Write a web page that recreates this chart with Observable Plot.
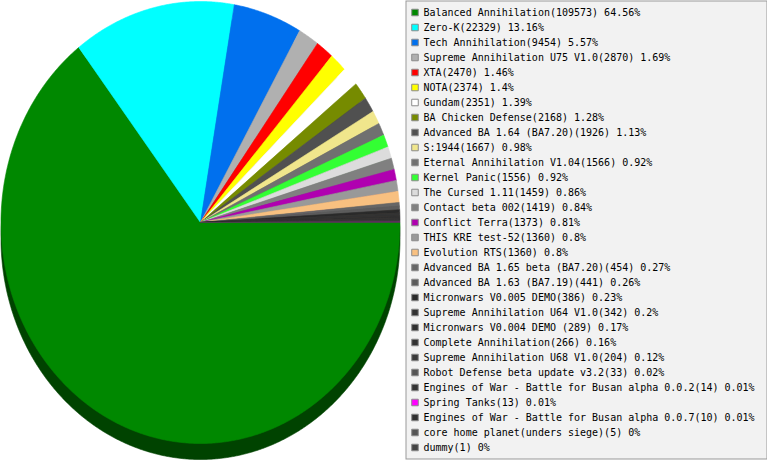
<!DOCTYPE html>
<html>
<head>
<meta charset="utf-8">
<script src="https://cdn.jsdelivr.net/npm/d3@7"></script>
<script src="https://cdn.jsdelivr.net/npm/@observablehq/plot@0.6"></script>
<style>
  body { margin: 0; background: #fff; }
  #chart { display: flex; width: 767px; height: 460px; }
  #chart svg { display: block; }
</style>
</head>
<body>
<div id="chart"></div>
<script>
const mods = [
  "Balanced Annihilation", "Zero-K", "Tech Annihilation", "Supreme Annihilation U75 V1.0",
  "XTA", "NOTA", "Gundam", "BA Chicken Defense", "Advanced BA 1.64 (BA7.20)", "S:1944",
  "Eternal Annihilation V1.04", "Kernel Panic", "The Cursed 1.11", "Contact beta 002",
  "Conflict Terra", "THIS KRE test-52", "Evolution RTS", "Advanced BA 1.65 beta (BA7.20)",
  "Advanced BA 1.63 (BA7.19)", "Micronwars V0.005 DEMO", "Supreme Annihilation U64 V1.0",
  "Micronwars V0.004 DEMO ", "Complete Annihilation", "Supreme Annihilation U68 V1.0",
  "Robot Defense beta update v3.2", "Engines of War - Battle for Busan alpha 0.0.2",
  "Spring Tanks", "Engines of War - Battle for Busan alpha 0.0.7",
  "core home planet(unders siege)", "dummy"
];
const counts = [
  109573, 22329, 9454, 2870, 2470, 2374, 2351, 2168, 1926, 1667,
  1566, 1556, 1459, 1419, 1373, 1360, 1360, 454, 441, 386,
  342, 289, 266, 204, 33, 14, 13, 10, 5, 1
];
const colors = [
  "#008800", "#00ffff", "#0070ee", "#b0b0b0", "#ff0000", "#ffff00", "#ffffff", "#768b00", "#505050", "#f0e68c",
  "#707070", "#33ff33", "#dcdcdc", "#808080", "#b000b0", "#999999", "#f8c080", "#666666", "#5c5c5c", "#2a2a2a",
  "#333333", "#303030", "#333333", "#3a3a3a", "#555555", "#333333", "#ff00ff", "#303030", "#555555", "#444444"
];

const total = d3.sum(counts);
const rows = mods.map((name, i) => ({
  name,
  color: colors[i],
  count: counts[i],
  label: `${name}(${counts[i]}) ${Math.round(counts[i] / total * 10000) / 100}%`
}));

// slices start at 3 o'clock and run clockwise
const arcs = d3.pie().value(d => d.count).sort(null)
  .startAngle(Math.PI / 2).endAngle(Math.PI * 2.5)(rows);

const pts = arcs.flatMap((a, i) => {
  const n = Math.max(2, Math.ceil((a.endAngle - a.startAngle) / 0.005));
  const c = a.data.color;
  const side = d3.rgb(c).darker(2).formatHex();
  const ring = d3.range(n + 1).map(k => a.startAngle + (a.endAngle - a.startAngle) * k / n)
    .map(t => ({i, x: Math.sin(t), y: -Math.cos(t), color: c, side}));
  return [{i, x: 0, y: 0, color: c, side}, ...ring, {i, x: 0, y: 0, color: c, side}];
});

const pie = Plot.plot({
  width: 405,
  height: 460,
  margin: 0,
  x: {domain: [-1, 1], range: [0.5, 399.5], axis: null},
  y: {domain: [-1, 1], range: [1, 443], axis: null},
  color: {type: "identity"},
  marks: [
    // 3d rim
    Plot.line(pts, {x: "x", y: "y", z: "i", fill: "side", stroke: "side", strokeWidth: 0.6, dy: 16}),
    Plot.line(pts, {x: "x", y: "y", z: "i", fill: "color", stroke: "color", strokeWidth: 0.6})
  ]
});

const legend = Plot.plot({
  width: 362,
  height: 460,
  marginTop: 0.5,
  marginLeft: 0.5,
  marginRight: 0.5,
  marginBottom: 1.5,
  y: {type: "point", domain: mods, range: [12, 447], padding: 0, axis: null},
  color: {type: "identity"},
  style: {fontFamily: "'DejaVu Sans Mono', monospace", fontSize: "10px", background: "transparent"},
  marks: [
    Plot.frame({fill: "#f2f2f2", stroke: "#999"}),
    Plot.dot(rows, {y: "name", frameAnchor: "left", dx: 9, symbol: "square", r: 3.7,
      fill: "color", stroke: "#8c8c8c", strokeWidth: 1}),
    Plot.text(rows, {y: "name", text: "label", frameAnchor: "left", dx: 17.5,
      textAnchor: "start", fill: "#000", fontSize: 10})
  ]
});

d3.select('#chart').append(() => pie);
d3.select('#chart').append(() => legend);
</script>
</body>
</html>
